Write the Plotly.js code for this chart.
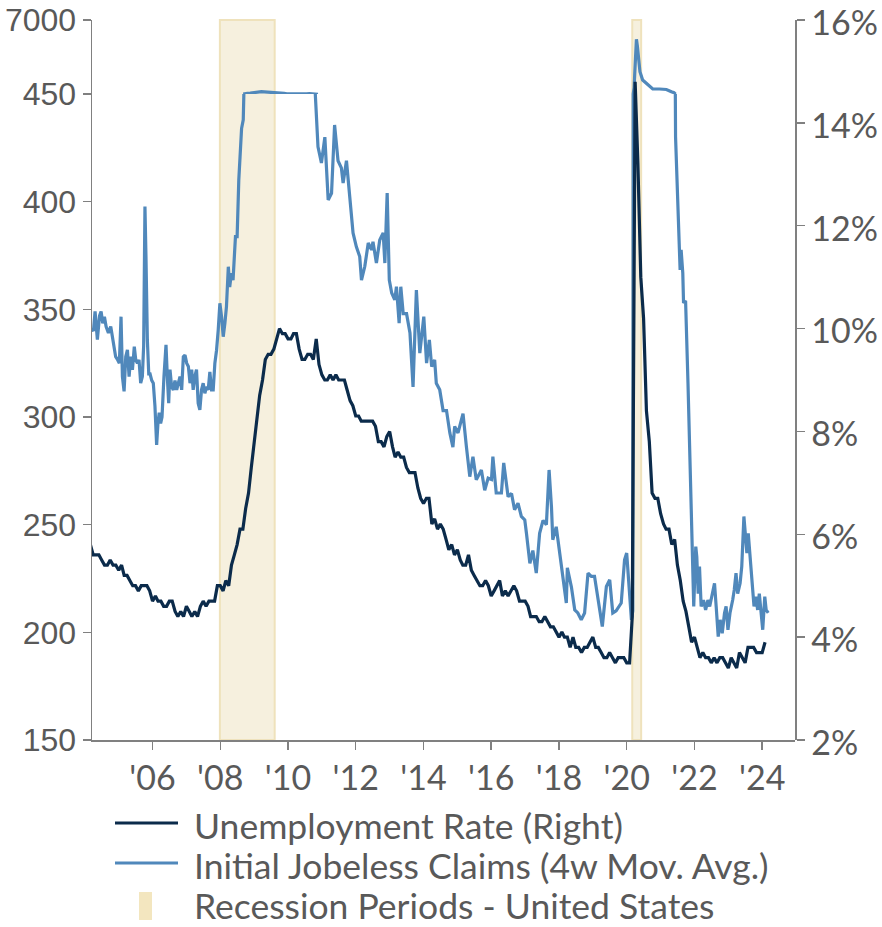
<!DOCTYPE html>
<html><head><meta charset="utf-8">
<script src="https://cdn.plot.ly/plotly-3.0.1.min.js"></script>
<style>html,body{margin:0;padding:0;background:#fff}#chart{width:882px;height:927px}</style>
</head><body><div id="chart"></div>
<script>
// ---------------- DATA ----------------
// Unemployment rate (%), monthly, starting March 2004
const urStart = [2004, 3];
const urValues = [
  5.8,5.6,5.6,5.6,5.5,5.4,5.4,5.5,5.4,5.4,
  5.3,5.4,5.2,5.2,5.1,5.0,5.0,4.9,5.0,5.0,5.0,4.9,
  4.7,4.8,4.7,4.7,4.6,4.6,4.7,4.7,4.5,4.4,4.5,4.4,
  4.6,4.5,4.4,4.5,4.4,4.6,4.7,4.6,4.7,4.7,4.7,5.0,
  5.0,4.9,5.1,5.0,5.4,5.6,5.8,6.1,6.1,6.5,6.8,7.3,
  7.8,8.3,8.7,9.0,9.4,9.5,9.5,9.6,9.8,10.0,9.9,9.9,
  9.8,9.8,9.9,9.9,9.6,9.4,9.4,9.5,9.5,9.4,9.8,9.3,
  9.1,9.0,9.0,9.1,9.0,9.1,9.0,9.0,9.0,8.8,8.6,8.5,
  8.3,8.3,8.2,8.2,8.2,8.2,8.2,8.1,7.8,7.8,7.7,7.9,
  8.0,7.7,7.5,7.6,7.5,7.5,7.3,7.2,7.2,7.2,6.9,6.7,
  6.6,6.7,6.7,6.2,6.3,6.1,6.2,6.1,5.9,5.7,5.8,5.6,
  5.7,5.5,5.4,5.4,5.6,5.3,5.2,5.1,5.0,5.0,5.1,5.0,
  4.8,4.9,5.0,5.1,4.8,4.9,4.8,4.9,5.0,4.9,4.7,4.7,
  4.7,4.6,4.4,4.4,4.4,4.3,4.3,4.4,4.3,4.2,4.2,4.1,
  4.0,4.1,4.0,4.0,3.8,4.0,3.8,3.8,3.7,3.8,3.8,3.9,
  4.0,3.8,3.8,3.7,3.6,3.6,3.7,3.6,3.5,3.6,3.6,3.6,
  3.5,3.5,4.4,14.8,13.2,11.0,10.2,8.4,7.8,6.8,6.7,6.7,
  6.4,6.2,6.1,6.1,5.8,5.9,5.4,5.1,4.7,4.5,4.2,3.9,
  4.0,3.8,3.6,3.7,3.6,3.6,3.5,3.6,3.5,3.6,3.6,3.5,
  3.4,3.6,3.5,3.4,3.7,3.6,3.5,3.8,3.8,3.8,3.7,3.7,
  3.7,3.9
];

// Initial jobless claims, 4-week moving average (thousands)
const claimsDates = [
 '2004-03-13','2004-04-04','2004-04-21','2004-05-16','2004-06-08','2004-06-25','2004-07-13','2004-07-31','2004-08-18','2004-09-12',
 '2004-10-07','2004-10-25','2004-11-11','2004-11-29','2004-12-21','2005-01-08','2005-01-26','2005-02-10','2005-02-28','2005-03-18',
 '2005-04-05','2005-04-23','2005-05-11','2005-05-29','2005-06-18','2005-07-04','2005-07-22','2005-08-08','2005-08-26','2005-09-13',
 '2005-09-27','2005-10-11','2005-10-22','2005-11-06','2005-11-21','2005-12-05','2005-12-23','2006-01-09','2006-01-27','2006-02-14',
 '2006-02-28','2006-03-14','2006-03-29','2006-04-13','2006-05-04','2006-05-26','2006-06-09','2006-06-24','2006-07-08','2006-07-26',
 '2006-08-13','2006-08-31','2006-09-18','2006-10-06','2006-10-24','2006-11-11','2006-11-29','2006-12-17','2007-01-04','2007-01-22',
 '2007-02-09','2007-02-27','2007-03-15','2007-04-02','2007-04-20','2007-05-08','2007-05-26','2007-06-13','2007-07-01','2007-07-19',
 '2007-08-06','2007-08-24','2007-09-11','2007-09-29','2007-10-17','2007-11-04','2007-11-22','2007-12-10','2007-12-28','2008-01-15',
 '2008-02-02','2008-02-20','2008-03-08','2008-03-28','2008-04-12','2008-04-30','2008-05-18','2008-06-13','2008-07-01','2008-07-19',
 '2008-08-03','2008-08-18','2008-09-05','2008-09-24','2008-10-20','2008-11-20','2008-12-20','2009-01-20','2009-02-20','2009-03-20',
 '2009-04-20','2009-05-20','2009-06-20','2009-07-20','2009-08-20','2009-09-20','2009-10-20','2009-11-20','2009-12-20','2010-01-20',
 '2010-02-20','2010-03-20','2010-04-20','2010-05-20','2010-06-20','2010-07-20','2010-08-20','2010-09-20','2010-10-16','2010-11-20',
 '2010-12-27','2011-02-02','2011-03-10','2011-04-15','2011-05-18','2011-06-24','2011-07-30','2011-08-18','2011-09-23','2011-10-30',
 '2011-12-03','2012-01-08','2012-02-13','2012-03-03','2012-04-08','2012-05-15','2012-06-20','2012-07-05','2012-08-11','2012-09-16',
 '2012-10-23','2012-11-10','2012-12-05','2012-12-28','2013-01-23','2013-02-25','2013-03-15','2013-04-13','2013-05-01','2013-05-27',
 '2013-07-02','2013-08-08','2013-09-10','2013-10-16','2013-11-22','2014-01-04','2014-02-03','2014-03-05','2014-03-30','2014-05-01',
 '2014-05-19','2014-06-25','2014-07-31','2014-09-06','2014-10-12','2014-11-14','2014-12-03','2015-01-08','2015-03-03','2015-04-09',
 '2015-05-15','2015-06-18','2015-07-24','2015-09-17','2015-10-23','2015-11-29','2016-01-04','2016-01-19','2016-02-24','2016-04-20',
 '2016-05-15','2016-07-01','2016-08-07','2016-09-09','2016-10-16','2016-11-21','2016-12-28','2017-01-15','2017-02-21','2017-03-25',
 '2017-05-01','2017-06-06','2017-07-13','2017-08-18','2017-09-16','2017-10-12','2017-10-26','2017-12-02','2017-12-31','2018-02-13',
 '2018-03-21','2018-04-01','2018-05-15','2018-06-20','2018-07-23','2018-08-29','2018-10-04','2018-11-10','2018-12-16','2019-01-19',
 '2019-02-24','2019-04-13','2019-05-27','2019-07-02','2019-08-04','2019-09-09','2019-11-03','2019-12-09','2020-01-01','2020-02-03',
 '2020-02-21','2020-03-07','2020-03-21','2020-03-28','2020-04-04','2020-04-15','2020-04-25','2020-05-05','2020-05-23','2020-06-21',
 '2020-08-17','2020-10-08','2020-12-20','2021-03-04','2021-04-27','2021-05-25','2021-06-11','2021-06-25','2021-07-08','2021-07-23',
 '2021-07-30','2021-08-10','2021-08-28','2021-09-05','2021-09-27','2021-10-23','2021-11-10','2021-11-28','2021-12-24','2022-01-15',
 '2022-01-26','2022-02-10','2022-02-24','2022-03-14','2022-04-08','2022-05-01','2022-05-26','2022-06-14','2022-07-13','2022-08-05',
 '2022-08-23','2022-09-14','2022-10-05','2022-10-27','2022-11-21','2022-12-08','2022-12-28','2023-01-19','2023-02-17','2023-03-06',
 '2023-03-25','2023-04-12','2023-05-08','2023-05-26','2023-06-18','2023-07-06','2023-07-20','2023-08-04','2023-08-26','2023-09-16',
 '2023-10-05','2023-10-27','2023-11-13','2023-12-01','2023-12-19','2024-01-07','2024-01-29','2024-02-13','2024-03-06'
];
const claimsValues = [
 341,340,349,336,347,349,343.5,346.6,342,339,
 342,337,332.5,328,326.5,325,346.6,318.8,311.9,328,
 331.2,318.8,328,321.9,332.7,326.5,325,326.5,315.7,318.8,
 333,397.7,374.5,335.8,320,320,317,315.7,305,287,
 297,302,297,300,318.8,333.5,318.8,306.4,322,314,
 312.6,317,312.6,315.7,318.8,312.6,328,328.8,325,323.5,
 315.7,322,312.6,318.8,322,306.4,303.3,312.6,315.7,311,
 314,312.6,321,312.6,312.6,325,331,340.4,352.8,346.6,
 337.3,343.5,351.3,369.8,360.4,366.8,363.6,383.8,383.8,410,
 425.5,434,438,480,520,530,570,600,640,660,
 640,630,610,560,570,550,530,500,470,460,
 470,455,460,460,460,460,485,465,455,425.5,
 418,430,400.8,403.9,435.6,419,415.7,408.7,419,399.4,
 385.5,379,374.5,363.6,370,380.8,377.6,381.4,371.5,382.2,
 385.5,371.5,404,363.6,357.6,354.4,360.5,343.6,360.5,348,
 348,339,314,359,329.7,346.6,325,335.8,323.4,326.5,
 315.7,312.6,303,303,292.6,286,295.6,292.6,301.6,286,
 272.3,281.6,270.8,275.4,266,271.6,271,281.6,264.7,264.7,
 278.7,263,264.5,256.9,260,253.8,252.2,246,232,238,
 227.5,246,252,250,275.4,258,243,249,240,224.4,
 213.6,230,221,210.4,209,205.8,209,227.5,226,226,
 215,202.7,221.3,224.4,209,210,213.6,233.7,236.8,218,
 205.8,210,1000,2300,4000,5290,4700,4050,2424,1689,
 1246,892,892,850,655,565,430,410,391.5,378.4,
 368.3,377.6,366.8,353,354,315.7,284.7,255.3,212,239.8,
 235,218,230.6,212,215,210.4,215,212,218,222.8,
 212,198,205.8,199.6,209,212,201.2,209,215,219.7,
 227.5,218,222.8,230.6,253.8,246,236.8,246,233.7,218,
 212,216.6,210.4,218,209,201.2,216.6,210.4,209
];

const recessionStarts = ['2007-12-28', '2020-03-01'];
const recessionEnds   = ['2009-08-10', '2020-06-05'];

const xTickYears  = [2006,2008,2010,2012,2014,2016,2018,2020,2022,2024];
const xTickLabels = ["'06","'08","'10","'12","'14","'16","'18","'20","'22","'24"];
const leftTicks   = [150,200,250,300,350,400,450];
const leftBreakTicks = [7000];
const rightTicks  = [2,4,6,8,10,12,14,16];

const legendLabels = ['Unemployment Rate (Right)', 'Initial Jobeless Claims (4w Mov. Avg.)', 'Recession Periods - United States'];

// ---------------- STYLE ----------------
const NAVY = '#0b2b4b';
const BLUE = '#5088bb';
const SHADE = '#f6f0de';
const SHADE_EDGE = '#efe2bc';
const AXIS = '#808080';
const TXT = '#595959';
const SANS = 'Lato, "Open Sans", sans-serif';
const ARIAL = '"Liberation Sans", Arial, sans-serif';

const urDates = urValues.map((v, i) => {
  const m = urStart[1] - 1 + i;
  const y = urStart[0] + Math.floor(m / 12);
  return y + '-' + String(m % 12 + 1).padStart(2, '0') + '-01';
});

const BREAK_VALUE = 450;
const BREAK = 0.8972; // fraction of plot height where the left axis breaks

// upper (broken) segment only needs points at/above the break and their neighbours
const claimsUpper = claimsValues.map((v, i) =>
  (v >= BREAK_VALUE || claimsValues[i - 1] >= BREAK_VALUE || claimsValues[i + 1] >= BREAK_VALUE) ? v : null);

const traces = [
  {x: claimsDates, y: claimsValues, xaxis: 'x', yaxis: 'y', type: 'scatter', mode: 'lines',
   line: {color: BLUE, width: 3.2}, hoverinfo: 'skip'},
  {x: claimsDates, y: claimsUpper, xaxis: 'x', yaxis: 'y2', type: 'scatter', mode: 'lines', connectgaps: false,
   line: {color: BLUE, width: 3.2}, hoverinfo: 'skip'},
  {x: urDates, y: urValues, xaxis: 'x', yaxis: 'y3', type: 'scatter', mode: 'lines',
   line: {color: NAVY, width: 3.2}, hoverinfo: 'skip'}
];

const shapes = [];
recessionStarts.forEach((s, i) => {
  shapes.push({type: 'rect', xref: 'x', yref: 'paper', x0: s, x1: recessionEnds[i], y0: 0, y1: 1,
    fillcolor: SHADE, line: {color: SHADE_EDGE, width: 2}, layer: 'below'});
});

// custom legend (paper coordinates)
const PW = 703, PH = 720, PL = 92, PT = 20;
const px = v => (v - PL) / PW;
const py = v => (PT + PH - v) / PH;
shapes.push({type: 'line', xref: 'paper', yref: 'paper', x0: px(115), x1: px(178), y0: py(823), y1: py(823), line: {color: NAVY, width: 3}});
shapes.push({type: 'line', xref: 'paper', yref: 'paper', x0: px(115), x1: px(178), y0: py(863), y1: py(863), line: {color: BLUE, width: 3}});
shapes.push({type: 'rect', xref: 'paper', yref: 'paper', x0: px(139), x1: px(152), y0: py(892), y1: py(920), fillcolor: '#f3e6bf', line: {width: 0}});

const legendY = [825, 865.5, 905.5];
const annotations = legendLabels.map((t, i) => ({
  xref: 'paper', yref: 'paper', x: px(192), y: py(legendY[i]), xanchor: 'left', yanchor: 'middle',
  text: t, showarrow: false, font: {family: SANS, size: 35.5, color: TXT}
}));

const axisCommon = {showgrid: false, zeroline: false, showline: true, linecolor: AXIS, linewidth: 1.5,
  ticks: 'outside', ticklen: 8, tickwidth: 1.5, tickcolor: AXIS, fixedrange: true, ticklabeloverflow: 'allow'};

const layout = {
  width: 882, height: 927,
  margin: {l: 92, r: 87, t: 20, b: 187},
  paper_bgcolor: '#ffffff', plot_bgcolor: 'rgba(0,0,0,0)',
  showlegend: false,
  xaxis: Object.assign({}, axisCommon, {
    type: 'date', range: ['2004-03-19', '2024-12-20'], anchor: 'y',
    tickvals: xTickYears.map(y => y + '-01-01'), ticktext: xTickLabels,
    tickfont: {family: SANS, size: 34, color: TXT}
  }),
  yaxis: Object.assign({}, axisCommon, {
    domain: [0, BREAK], range: [150, 450.001], anchor: 'x', side: 'left',
    tickvals: leftTicks, ticktext: leftTicks.map(String),
    tickfont: {family: ARIAL, size: 32, color: TXT}
  }),
  yaxis2: Object.assign({}, axisCommon, {
    domain: [BREAK, 1], range: [450.001, 7000.05], anchor: 'x', side: 'left',
    tickvals: leftBreakTicks, ticktext: leftBreakTicks.map(String),
    tickfont: {family: ARIAL, size: 32, color: TXT}
  }),
  yaxis3: Object.assign({}, axisCommon, {
    domain: [0, 1], range: [1.9999, 16.0001], anchor: 'x', side: 'right',
    tickvals: rightTicks, ticktext: rightTicks.map(v => v + '%'),
    ticklabelshift: 3,
    tickfont: {family: SANS, size: 34, color: TXT}
  }),
  shapes: shapes,
  annotations: annotations
};

Plotly.newPlot('chart', traces, layout, {displayModeBar: false, staticPlot: true});
</script>
</body></html>
